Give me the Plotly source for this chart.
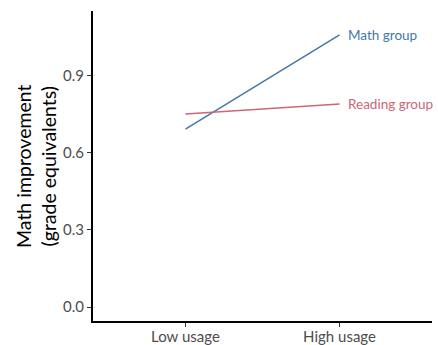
import plotly.graph_objects as go

usage = ["Low usage", "High usage"]
math_group = [0.693, 1.06]
reading_group = [0.752, 0.791]

series = [("Math group", math_group, "#4477AA"),
          ("Reading group", reading_group, "#CC6677")]

fig = go.Figure()
for name, vals, col in series:
  fig.add_trace(go.Scatter(x=usage, y=vals, mode="lines", name=name,
                           line=dict(color=col, width=1.5)))
  fig.add_annotation(x=usage[-1], y=vals[-1], text=name, showarrow=False,
                     xanchor="left", xshift=6, font=dict(color=col, size=13.5))

# two-line y title placed by hand
fig.add_annotation(x=0, xref="paper", xanchor="center", xshift=-57,
                   y=0.5, yref="paper", yanchor="middle", textangle=-90,
                   text="Math improvement<br>(grade equivalents)", showarrow=False,
                   font=dict(size=19.5, color="black"))

fig.update_layout(
  width=438, height=345, showlegend=False,
  plot_bgcolor="white", paper_bgcolor="white",
  margin=dict(l=93, r=6, t=11, b=24),
  font=dict(family="Lato, Open Sans, sans-serif", size=14, color="#4d4d4d"),
)
fig.update_xaxes(range=[-0.6, 1.6], showline=True, linecolor="black", linewidth=2,
                 ticks="outside", ticklen=4, tickcolor="#333", showgrid=False,
                 zeroline=False, automargin=False, ticklabelstandoff=-3,
                 tickfont=dict(size=15, color="#4d4d4d"))
fig.update_yaxes(range=[-0.0545, 1.153], tickvals=[0, 0.3, 0.6, 0.9],
                 ticktext=["0.0", "0.3", "0.6", "0.9"],
                 showline=True, linecolor="black", linewidth=2,
                 ticks="outside", ticklen=4, tickcolor="#333", showgrid=False,
                 zeroline=False, automargin=False,
                 tickfont=dict(size=15, color="#4d4d4d"))

# drop the default body margin so the figure fills the window exactly
fig.write_html("out.html", config={"displayModeBar": False},
               post_script="document.body.style.margin='0';"
                           "document.body.style.overflow='hidden';")
